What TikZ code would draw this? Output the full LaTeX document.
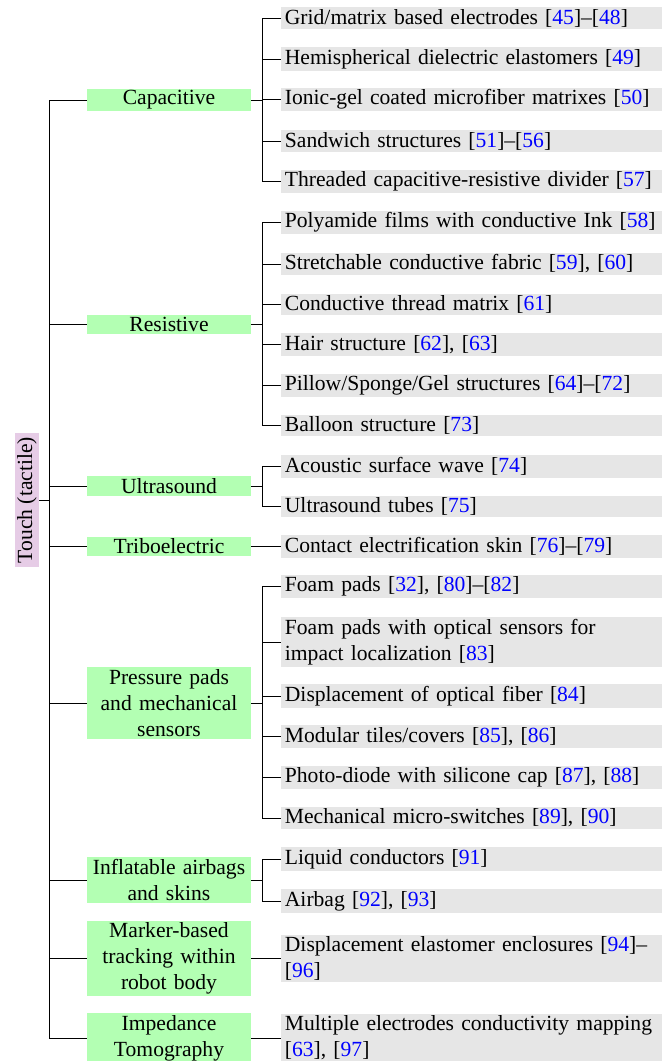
\documentclass[tikz,border=0pt]{standalone}
\usepackage{fontspec}
\setmainfont{Liberation Serif}
\definecolor{lvone}{RGB}{179,255,179}
\definecolor{lvtwo}{RGB}{230,230,230}
\definecolor{rootc}{RGB}{230,204,230}
\definecolor{citec}{RGB}{0,0,255}
\newcommand{\rf}[1]{[\textcolor{citec}{#1}]}
\hyphenpenalty=10000\relax
\begin{document}
\begin{tikzpicture}[x=0.5pt,y=-0.5pt,
  every node/.style={font=\fontsize{10.8}{13}\selectfont, inner xsep=2pt, inner ysep=1pt},
  rootbox/.style={fill=rootc, rotate=90},
  catbox/.style={fill=lvone, text width=78pt, align=center},
  leafbox/.style={fill=lvtwo, text width=187pt, inner xsep=1.75pt, align=left, anchor=west},
  link/.style={draw=black, line width=0.4pt}]
\useasboundingbox (0,0) rectangle (667,1061);
% root
\node[rootbox] (root) at (27,500) {Touch (tactile)};
% level 1
\node[catbox] (cap) at (169,100) {Capacitive};
\node[catbox] (res) at (169,324.5) {Resistive};
\node[catbox] (ult) at (169,486) {Ultrasound};
\node[catbox] (tri) at (169,546.5) {Triboelectric};
\node[catbox] (pre) at (169,703) {Pressure pads\\and mechanical\\sensors};
\node[catbox] (inf) at (169,880) {Inflatable airbags\\and skins};
\node[catbox] (mar) at (169,958.5) {Marker-based\\tracking within\\robot body};
\node[catbox] (imp) at (169,1038) {Impedance\\Tomography};
% level 2
\node[leafbox] (c1) at (281,18) {Grid/matrix based electrodes \rf{45}--\rf{48}};
\node[leafbox] (c2) at (281,59) {Hemispherical dielectric elastomers \rf{49}};
\node[leafbox] (c3) at (281,99.5) {Ionic-gel coated microfiber matrixes \rf{50}};
\node[leafbox] (c4) at (281,141) {Sandwich structures \rf{51}--\rf{56}};
\node[leafbox] (c5) at (281,181.5) {Threaded capacitive-resistive divider \rf{57}};
\node[leafbox] (r1) at (281,222.5) {Polyamide films with conductive Ink \rf{58}};
\node[leafbox] (r2) at (281,264) {Stretchable conductive fabric \rf{59}, \rf{60}};
\node[leafbox] (r3) at (281,304.5) {Conductive thread matrix \rf{61}};
\node[leafbox] (r4) at (281,344.5) {Hair structure \rf{62}, \rf{63}};
\node[leafbox] (r5) at (281,385.5) {Pillow/Sponge/Gel structures \rf{64}--\rf{72}};
\node[leafbox] (r6) at (281,425.5) {Balloon structure \rf{73}};
\node[leafbox] (u1) at (281,466.5) {Acoustic surface wave \rf{74}};
\node[leafbox] (u2) at (281,506.5) {Ultrasound tubes \rf{75}};
\node[leafbox] (t1) at (281,546.5) {Contact electrification skin \rf{76}--\rf{79}};
\node[leafbox] (p1) at (281,586.5) {Foam pads \rf{32}, \rf{80}--\rf{82}};
\node[leafbox] (p2) at (281,642) {Foam pads with optical sensors for\\impact localization \rf{83}};
\node[leafbox] (p3) at (281,696) {Displacement of optical fiber \rf{84}};
\node[leafbox] (p4) at (281,736.5) {Modular tiles/covers \rf{85}, \rf{86}};
\node[leafbox] (p5) at (281,777.5) {Photo-diode with silicone cap \rf{87}, \rf{88}};
\node[leafbox] (p6) at (281,818) {Mechanical micro-switches \rf{89}, \rf{90}};
\node[leafbox] (i1) at (281,859) {Liquid conductors \rf{91}};
\node[leafbox] (i2) at (281,901) {Airbag \rf{92}, \rf{93}};
\node[leafbox] (m1) at (281,958.5) {Displacement elastomer enclosures \rf{94}--\\\rf{96}};
\node[leafbox] (z1) at (281,1038) {Multiple electrodes conductivity mapping\\\rf{63}, \rf{97}};
% connectors root -> level 1
\foreach \c in {cap,res,ult,tri,pre,inf,mar,imp}
  \draw[link] (root.south) -- ++(10,0) |- (\c.west);
% connectors level 1 -> level 2
\foreach \c in {c1,c2,c3,c4,c5}
  \draw[link] (cap.east) -- ++(11,0) |- (\c.west);
\foreach \c in {r1,r2,r3,r4,r5,r6}
  \draw[link] (res.east) -- ++(11,0) |- (\c.west);
\foreach \c in {u1,u2}
  \draw[link] (ult.east) -- ++(11,0) |- (\c.west);
\draw[link] (tri.east) -- ++(11,0) |- (t1.west);
\foreach \c in {p1,p2,p3,p4,p5,p6}
  \draw[link] (pre.east) -- ++(11,0) |- (\c.west);
\foreach \c in {i1,i2}
  \draw[link] (inf.east) -- ++(11,0) |- (\c.west);
\draw[link] (mar.east) -- ++(11,0) |- (m1.west);
\draw[link] (imp.east) -- ++(11,0) |- (z1.west);
\end{tikzpicture}
\end{document}
